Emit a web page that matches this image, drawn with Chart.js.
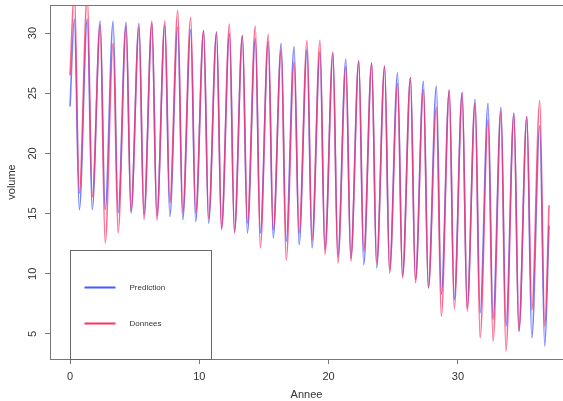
<!DOCTYPE html>
<html>
<head>
<meta charset="utf-8">
<script src="https://cdn.jsdelivr.net/npm/chart.js@4.4.0/dist/chart.umd.min.js"></script>
<style>
	html, body { margin: 0; padding: 0; background: #fff; }
</style>
</head>
<body>
<canvas id="chart" width="563" height="401"></canvas>
<script>
// annees et valeurs (un maximum et un minimum par an)
const annees = [0, 1, 2, 3, 4, 5, 6, 7, 8, 9, 10, 11, 12, 13, 14, 15, 16, 17, 18, 19, 20, 21, 22, 23, 24, 25, 26, 27, 28, 29, 30, 31, 32, 33, 34, 35, 36];
const moisPic = 4.0;
const moisCreux = 8.6;

const picsPrediction = [31.16, 31.16, 31.0, 30.97, 30.9, 30.8, 30.8, 30.66, 30.5, 30.3, 30.2, 30.1, 29.97, 29.8, 29.56, 29.3, 29.15, 28.87, 28.65, 28.45, 28.3, 27.84, 27.7, 27.5, 27.2, 26.7, 26.3, 26.0, 25.6, 25.27, 25.05, 24.5, 24.17, 23.84, 23.34, 23.06, 22.3];
const creuxPrediction = [15.32, 15.32, 15.32, 15.05, 15.05, 14.9, 14.8, 14.77, 14.5, 14.35, 14.2, 13.8, 13.5, 13.4, 13.4, 12.98, 12.7, 12.42, 12.15, 12.0, 11.4, 11.3, 10.76, 10.49, 10.3, 9.8, 9.5, 8.83, 8.28, 7.86, 7.17, 6.76, 6.2, 5.65, 5.23, 4.68, 4.0];
const picsDonnees = [33.5, 33.2, 30.66, 29.15, 30.58, 30.5, 31.0, 31.0, 31.9, 31.3, 30.2, 29.97, 30.75, 29.8, 30.58, 29.9, 28.6, 27.6, 29.4, 29.4, 28.45, 27.2, 27.7, 27.5, 27.3, 25.8, 26.3, 25.3, 23.84, 25.27, 25.05, 24.17, 22.8, 23.5, 23.34, 23.06, 24.4];
const creuxDonnees = [16.7, 16.4, 12.56, 13.4, 15.2, 14.5, 14.46, 15.9, 15.05, 15.05, 14.6, 13.66, 13.4, 14.2, 12.15, 13.66, 11.12, 13.4, 12.8, 11.6, 10.9, 11.04, 11.87, 10.9, 10.07, 9.66, 9.25, 8.83, 6.48, 7.09, 6.9, 4.68, 4.4, 3.57, 5.23, 7.0, 5.65];

const debutPrediction = 23.9;
const debutDonnees = 26.5;
const anneeFin = 37.05;
const finPrediction = 14.0;
const finDonnees = 15.7;

const xTicks = [0, 10, 20, 30];
const yTicks = [5, 10, 15, 20, 25, 30];

var police = "'Liberation Sans', Arial, sans-serif";
var couleur = {
	bleu: "rgba(70, 85, 255, 0.75)",
	rouge: "rgba(255, 45, 95, 0.72)",
	axe: "#777",
	texte: "#333"
};

function serie(debut, pics, creux, fin) {
	var pts = [{ x: 0, y: debut }];
	for (var i = 0; i < annees.length; i++) {
		pts.push({ x: annees[i] + moisPic / 12, y: pics[i] });
		pts.push({ x: annees[i] + moisCreux / 12, y: creux[i] });
	}
	pts.push({ x: anneeFin, y: fin });
	return pts;
}

// cadre du graphique + legende a la R (coin haut gauche en x=0, y=12)
var cadreLegende = {
	id: "cadreLegende",
	afterDraw: function (chart) {
		var ctx = chart.ctx;
		var a = chart.chartArea;
		var xs = chart.scales.x;
		var ys = chart.scales.y;
		ctx.save();
		ctx.strokeStyle = couleur.axe;
		ctx.lineWidth = 1;
		ctx.strokeRect(Math.round(a.left) + 0.5, Math.round(a.top) + 0.5, a.right - a.left + 2, Math.round(a.bottom - a.top));

		var lx = Math.round(xs.getPixelForValue(0)) + 0.5;
		var ly = Math.round(ys.getPixelForValue(12)) + 0.5;
		var lw = 141;
		var lh = Math.round(a.bottom) - ly + 0.5;
		ctx.strokeStyle = "#666";
		ctx.strokeRect(lx, ly, lw, lh);

		var items = chart.data.datasets;
		ctx.font = "8px " + police;
		ctx.textBaseline = "middle";
		ctx.textAlign = "left";
		for (var i = 0; i < items.length; i++) {
			var yy = ly + 37 + i * 36;
			ctx.strokeStyle = items[i].legendColor;
			ctx.lineWidth = 2;
			ctx.beginPath();
			ctx.moveTo(lx + 14, yy);
			ctx.lineTo(lx + 45, yy);
			ctx.stroke();
			ctx.fillStyle = couleur.texte;
			ctx.fillText(items[i].label, lx + 59, yy);
		}
		ctx.restore();
	}
};

var chart = new Chart(document.getElementById("chart").getContext("2d"), {
	type: "line",
	data: {
		datasets: [{
			label: "Prediction",
			data: serie(debutPrediction, picsPrediction, creuxPrediction, finPrediction),
			borderColor: couleur.bleu,
			legendColor: "rgb(70, 90, 255)",
			borderWidth: 1.6,
			pointRadius: 0,
			cubicInterpolationMode: "monotone",
			order: 1
		}, {
			label: "Donnees",
			data: serie(debutDonnees, picsDonnees, creuxDonnees, finDonnees),
			borderColor: couleur.rouge,
			legendColor: "rgb(255, 50, 95)",
			borderWidth: 1.6,
			pointRadius: 0,
			cubicInterpolationMode: "monotone",
			order: 0
		}]
	},
	options: {
		responsive: false,
		animation: false,
		layout: { padding: { left: 0, right: 0, top: 5, bottom: 0 } },
		plugins: {
			legend: { display: false },
			tooltip: { enabled: false }
		},
		scales: {
			x: {
				type: "linear",
				min: -1.55,
				max: 38.13,
				afterFit: function (s) { s.height = 42; s.paddingLeft = 0; s.paddingRight = 0; },
				afterBuildTicks: function (s) { s.ticks = xTicks.map(function (v) { return { value: v }; }); },
				border: { display: false },
				grid: { drawOnChartArea: false, tickLength: 5, color: couleur.axe },
				ticks: { padding: 6, color: couleur.texte, font: { family: police, size: 11 } },
				title: { display: true, text: "Annee", color: couleur.texte, font: { family: police, size: 11 }, padding: { top: 0, bottom: -1 } }
			},
			y: {
				min: 2.92,
				max: 32.33,
				afterFit: function (s) { s.width = 50; s.paddingTop = 0; s.paddingBottom = 0; },
				afterBuildTicks: function (s) { s.ticks = yTicks.map(function (v) { return { value: v }; }); },
				border: { display: false },
				grid: { drawOnChartArea: false, tickLength: 5, color: couleur.axe },
				ticks: { minRotation: 90, maxRotation: 90, crossAlign: "center", padding: 6, color: couleur.texte, font: { family: police, size: 11 } },
				title: { display: true, text: "volume", color: couleur.texte, font: { family: police, size: 11 }, padding: { top: 5, bottom: 0 } }
			}
		}
	},
	plugins: [cadreLegende]
});
</script>
</body>
</html>
